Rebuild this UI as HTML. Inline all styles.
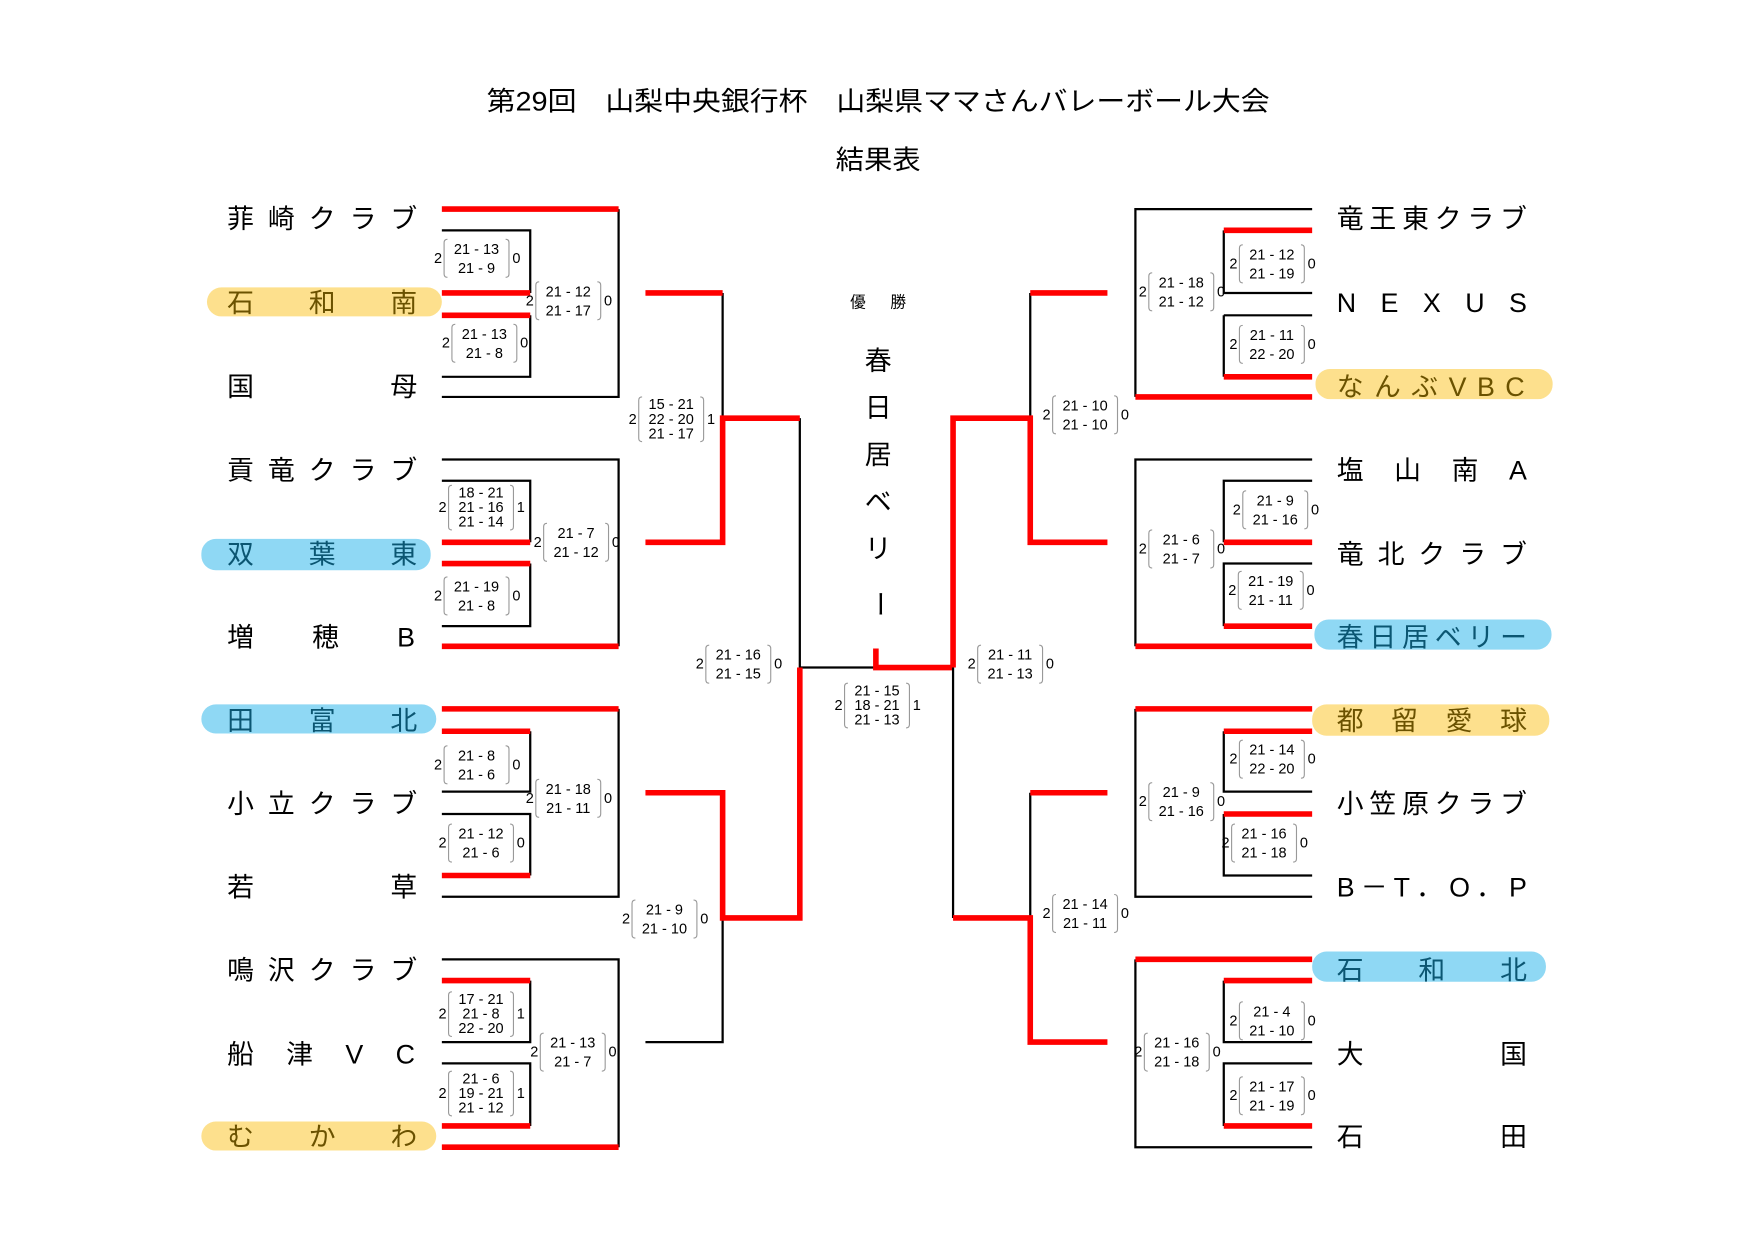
<!DOCTYPE html>
<html><head><meta charset="utf-8"><style>
html,body{margin:0;padding:0;background:#fff;}
svg{display:block;}
text{font-family:"Liberation Sans","Noto Sans CJK JP",sans-serif;}
.t{font-size:24px;fill:#000;}
.s{font-size:13px;fill:#000;}
.b{stroke:#000;stroke-width:2;fill:none;}
.r{stroke:#f00;stroke-width:5;fill:none;}
.br{stroke:#999;stroke-width:1;fill:none;}
.ty{fill:#6b5200;}
.tb{fill:#0b5672;}
</style></head><body>
<svg width="1754" height="1240" viewBox="0 0 1568 1109" preserveAspectRatio="none" xmlns="http://www.w3.org/2000/svg">
<defs>
<g id="b2"><path class="br" d="M12,-17 q-3,0 -3,3 v28 q0,3 3,3 M64,-17 q3,0 3,3 v28 q0,3 -3,3"/></g>
<g id="b3"><path class="br" d="M12,-20 q-3,0 -3,3 v34 q0,3 3,3 M64,-20 q3,0 3,3 v34 q0,3 -3,3"/></g>
</defs>
<text x="785" y="99" text-anchor="middle" class="t" textLength="700" lengthAdjust="spacingAndGlyphs">第29回　山梨中央銀行杯　山梨県ママさんバレーボール大会</text>
<text x="785" y="151" text-anchor="middle" class="t" textLength="76" lengthAdjust="spacingAndGlyphs">結果表</text>

<rect x="185" y="257" width="210" height="26" rx="13" fill="#fde08d"/>
<rect x="180" y="482" width="205" height="28" rx="13" fill="#8fd8f4"/>
<rect x="180" y="630" width="210" height="26" rx="13" fill="#8fd8f4"/>
<rect x="180" y="1003" width="210" height="26" rx="13" fill="#fde08d"/>
<rect x="1176" y="330" width="212" height="27" rx="13" fill="#fde08d"/>
<rect x="1175" y="554" width="212" height="27" rx="13" fill="#8fd8f4"/>
<rect x="1173" y="630" width="212" height="28" rx="13" fill="#fde08d"/>
<rect x="1173" y="851" width="209" height="27" rx="13" fill="#8fd8f4"/>

<g class="t">
<text x="203" y="204" textLength="170" lengthAdjust="spacing">菲崎クラブ</text>
<text x="203" y="279" textLength="170" lengthAdjust="spacing" class="ty">石和南</text>
<text x="203" y="354" textLength="170" lengthAdjust="spacing">国母</text>
<text x="203" y="429" textLength="170" lengthAdjust="spacing">貢竜クラブ</text>
<text x="203" y="504" textLength="170" lengthAdjust="spacing" class="tb">双葉東</text>
<text x="203" y="578" textLength="168" lengthAdjust="spacing">増穂B</text>
<text x="203" y="653" textLength="170" lengthAdjust="spacing" class="tb">田富北</text>
<text x="203" y="727" textLength="170" lengthAdjust="spacing">小立クラブ</text>
<text x="203" y="802" textLength="170" lengthAdjust="spacing">若草</text>
<text x="203" y="876" textLength="170" lengthAdjust="spacing">鳴沢クラブ</text>
<text x="203" y="951" textLength="168" lengthAdjust="spacing">船津VC</text>
<text x="203" y="1025" textLength="170" lengthAdjust="spacing" class="ty">むかわ</text>
</g>
<g class="t">
<text x="1195" y="204" textLength="170" lengthAdjust="spacing">竜王東クラブ</text>
<text x="1195" y="279" textLength="170" lengthAdjust="spacing">NEXUS</text>
<text x="1195" y="354" textLength="168" lengthAdjust="spacing" class="ty">なんぶVBC</text>
<text x="1195" y="429" textLength="170" lengthAdjust="spacing">塩山南A</text>
<text x="1195" y="504" textLength="170" lengthAdjust="spacing">竜北クラブ</text>
<text x="1195" y="578" textLength="170" lengthAdjust="spacing" class="tb">春日居ベリー</text>
<text x="1195" y="653" textLength="170" lengthAdjust="spacing" class="ty">都留愛球</text>
<text x="1195" y="727" textLength="170" lengthAdjust="spacing">小笠原クラブ</text>
<text x="1195" y="802" textLength="170" lengthAdjust="spacing">B－T．O．P</text>
<text x="1195" y="876" textLength="170" lengthAdjust="spacing" class="tb">石和北</text>
<text x="1195" y="951" textLength="170" lengthAdjust="spacing">大国</text>
<text x="1195" y="1025" textLength="170" lengthAdjust="spacing">石田</text>
</g>

<path class="b" d="M553,187V355H395 M395,206H474V262 M474,282V337H395
M395,411H553V578 M395,430H474V485 M474,504V560H395
M553,634V802H395 M474,654V708H395 M395,728H474V783
M395,858H553V1026 M474,877V932H395 M395,951H474V1007
M646,262V374 M715,374V597H783 M646,821V932H577"/>
<path class="r" d="M395,187H553 M395,262H474 M395,282H474 M395,485H474 M395,504H474 M395,578H553
M395,634H553 M395,654H474 M395,783H474 M395,877H474 M395,1007H474 M395,1026H553
M577,262H646 M577,485H646V374H715 M577,709H646V821H715V597 M783,580V597H852"/>
<path class="b" d="M1173,187H1015V355 M1173,262H1094V206 M1094,282H1173 M1094,282V337
M1173,411H1015V578 M1173,430H1094V485 M1173,504H1094V560
M1015,634V802H1173 M1094,654V708H1173 M1094,728V783H1173
M1015,858V1026H1173 M1094,877V932H1173 M1173,951H1094V1007
M921,262V374 M852,597V821 M921,709V821"/>
<path class="r" d="M1094,206H1173 M1094,337H1173 M1015,355H1173 M1094,485H1173 M1094,560H1173 M1015,578H1173
M1015,634H1173 M1094,654H1173 M1094,728H1173 M1015,858H1173 M1094,877H1173 M1094,1007H1173
M990,262H921 M990,485H921V374H852V597 M990,709H921 M852,821H921V932H990"/>

<text x="785" y="275" text-anchor="middle" style="font-size:14px" textLength="50" lengthAdjust="spacing">優勝</text>
<g class="t" text-anchor="middle">
<text x="785" y="331">春</text><text x="785" y="373">日</text><text x="785" y="415">居</text><text x="785" y="457">ベ</text><text x="785" y="499">リ</text>
<text x="785" y="533" transform="rotate(90 778 533)">ー</text>
</g>

<g class="s">
<g transform="translate(388,231)"><use href="#b2"/><text x="0" y="4">2</text><text x="38" y="-4" text-anchor="middle">21 - 13</text><text x="38" y="13" text-anchor="middle">21 -  9</text><text x="70" y="4">0</text></g>
<g transform="translate(470,269)"><use href="#b2"/><text x="0" y="4">2</text><text x="38" y="-4" text-anchor="middle">21 - 12</text><text x="38" y="13" text-anchor="middle">21 - 17</text><text x="70" y="4">0</text></g>
<g transform="translate(395,307)"><use href="#b2"/><text x="0" y="4">2</text><text x="38" y="-4" text-anchor="middle">21 - 13</text><text x="38" y="13" text-anchor="middle">21 -  8</text><text x="70" y="4">0</text></g>
<g transform="translate(392,454)"><use href="#b3"/><text x="0" y="4">2</text><text x="38" y="-9" text-anchor="middle">18 - 21</text><text x="38" y="4" text-anchor="middle">21 - 16</text><text x="38" y="17" text-anchor="middle">21 - 14</text><text x="70" y="4">1</text></g>
<g transform="translate(477,485)"><use href="#b2"/><text x="0" y="4">2</text><text x="38" y="-4" text-anchor="middle">21 -  7</text><text x="38" y="13" text-anchor="middle">21 - 12</text><text x="70" y="4">0</text></g>
<g transform="translate(388,533)"><use href="#b2"/><text x="0" y="4">2</text><text x="38" y="-4" text-anchor="middle">21 - 19</text><text x="38" y="13" text-anchor="middle">21 -  8</text><text x="70" y="4">0</text></g>
<g transform="translate(562,375)"><use href="#b3"/><text x="0" y="4">2</text><text x="38" y="-9" text-anchor="middle">15 - 21</text><text x="38" y="4" text-anchor="middle">22 - 20</text><text x="38" y="17" text-anchor="middle">21 - 17</text><text x="70" y="4">1</text></g>
<g transform="translate(622,594)"><use href="#b2"/><text x="0" y="4">2</text><text x="38" y="-4" text-anchor="middle">21 - 16</text><text x="38" y="13" text-anchor="middle">21 - 15</text><text x="70" y="4">0</text></g>
<g transform="translate(388,684)"><use href="#b2"/><text x="0" y="4">2</text><text x="38" y="-4" text-anchor="middle">21 -  8</text><text x="38" y="13" text-anchor="middle">21 -  6</text><text x="70" y="4">0</text></g>
<g transform="translate(470,714)"><use href="#b2"/><text x="0" y="4">2</text><text x="38" y="-4" text-anchor="middle">21 - 18</text><text x="38" y="13" text-anchor="middle">21 - 11</text><text x="70" y="4">0</text></g>
<g transform="translate(392,754)"><use href="#b2"/><text x="0" y="4">2</text><text x="38" y="-4" text-anchor="middle">21 - 12</text><text x="38" y="13" text-anchor="middle">21 -  6</text><text x="70" y="4">0</text></g>
<g transform="translate(392,907)"><use href="#b3"/><text x="0" y="4">2</text><text x="38" y="-9" text-anchor="middle">17 - 21</text><text x="38" y="4" text-anchor="middle">21 -  8</text><text x="38" y="17" text-anchor="middle">22 - 20</text><text x="70" y="4">1</text></g>
<g transform="translate(474,941)"><use href="#b2"/><text x="0" y="4">2</text><text x="38" y="-4" text-anchor="middle">21 - 13</text><text x="38" y="13" text-anchor="middle">21 -  7</text><text x="70" y="4">0</text></g>
<g transform="translate(392,978)"><use href="#b3"/><text x="0" y="4">2</text><text x="38" y="-9" text-anchor="middle">21 -  6</text><text x="38" y="4" text-anchor="middle">19 - 21</text><text x="38" y="17" text-anchor="middle">21 - 12</text><text x="70" y="4">1</text></g>
<g transform="translate(556,822)"><use href="#b2"/><text x="0" y="4">2</text><text x="38" y="-4" text-anchor="middle">21 -  9</text><text x="38" y="13" text-anchor="middle">21 - 10</text><text x="70" y="4">0</text></g>
<g transform="translate(746,631)"><use href="#b3"/><text x="0" y="4">2</text><text x="38" y="-9" text-anchor="middle">21 - 15</text><text x="38" y="4" text-anchor="middle">18 - 21</text><text x="38" y="17" text-anchor="middle">21 - 13</text><text x="70" y="4">1</text></g>

<g transform="translate(1099,236)"><use href="#b2"/><text x="0" y="4">2</text><text x="38" y="-4" text-anchor="middle">21 - 12</text><text x="38" y="13" text-anchor="middle">21 - 19</text><text x="70" y="4">0</text></g>
<g transform="translate(1018,261)"><use href="#b2"/><text x="0" y="4">2</text><text x="38" y="-4" text-anchor="middle">21 - 18</text><text x="38" y="13" text-anchor="middle">21 - 12</text><text x="70" y="4">0</text></g>
<g transform="translate(1099,308)"><use href="#b2"/><text x="0" y="4">2</text><text x="38" y="-4" text-anchor="middle">21 - 11</text><text x="38" y="13" text-anchor="middle">22 - 20</text><text x="70" y="4">0</text></g>
<g transform="translate(932,371)"><use href="#b2"/><text x="0" y="4">2</text><text x="38" y="-4" text-anchor="middle">21 - 10</text><text x="38" y="13" text-anchor="middle">21 - 10</text><text x="70" y="4">0</text></g>
<g transform="translate(1102,456)"><use href="#b2"/><text x="0" y="4">2</text><text x="38" y="-4" text-anchor="middle">21 -  9</text><text x="38" y="13" text-anchor="middle">21 - 16</text><text x="70" y="4">0</text></g>
<g transform="translate(1018,491)"><use href="#b2"/><text x="0" y="4">2</text><text x="38" y="-4" text-anchor="middle">21 -  6</text><text x="38" y="13" text-anchor="middle">21 -  7</text><text x="70" y="4">0</text></g>
<g transform="translate(1098,528)"><use href="#b2"/><text x="0" y="4">2</text><text x="38" y="-4" text-anchor="middle">21 - 19</text><text x="38" y="13" text-anchor="middle">21 - 11</text><text x="70" y="4">0</text></g>
<g transform="translate(865,594)"><use href="#b2"/><text x="0" y="4">2</text><text x="38" y="-4" text-anchor="middle">21 - 11</text><text x="38" y="13" text-anchor="middle">21 - 13</text><text x="70" y="4">0</text></g>
<g transform="translate(1099,679)"><use href="#b2"/><text x="0" y="4">2</text><text x="38" y="-4" text-anchor="middle">21 - 14</text><text x="38" y="13" text-anchor="middle">22 - 20</text><text x="70" y="4">0</text></g>
<g transform="translate(1018,717)"><use href="#b2"/><text x="0" y="4">2</text><text x="38" y="-4" text-anchor="middle">21 -  9</text><text x="38" y="13" text-anchor="middle">21 - 16</text><text x="70" y="4">0</text></g>
<g transform="translate(1092,754)"><use href="#b2"/><text x="0" y="4">2</text><text x="38" y="-4" text-anchor="middle">21 - 16</text><text x="38" y="13" text-anchor="middle">21 - 18</text><text x="70" y="4">0</text></g>
<g transform="translate(932,817)"><use href="#b2"/><text x="0" y="4">2</text><text x="38" y="-4" text-anchor="middle">21 - 14</text><text x="38" y="13" text-anchor="middle">21 - 11</text><text x="70" y="4">0</text></g>
<g transform="translate(1099,913)"><use href="#b2"/><text x="0" y="4">2</text><text x="38" y="-4" text-anchor="middle">21 -  4</text><text x="38" y="13" text-anchor="middle">21 - 10</text><text x="70" y="4">0</text></g>
<g transform="translate(1014,941)"><use href="#b2"/><text x="0" y="4">2</text><text x="38" y="-4" text-anchor="middle">21 - 16</text><text x="38" y="13" text-anchor="middle">21 - 18</text><text x="70" y="4">0</text></g>
<g transform="translate(1099,980)"><use href="#b2"/><text x="0" y="4">2</text><text x="38" y="-4" text-anchor="middle">21 - 17</text><text x="38" y="13" text-anchor="middle">21 - 19</text><text x="70" y="4">0</text></g>
</g>
</svg>
</body></html>
